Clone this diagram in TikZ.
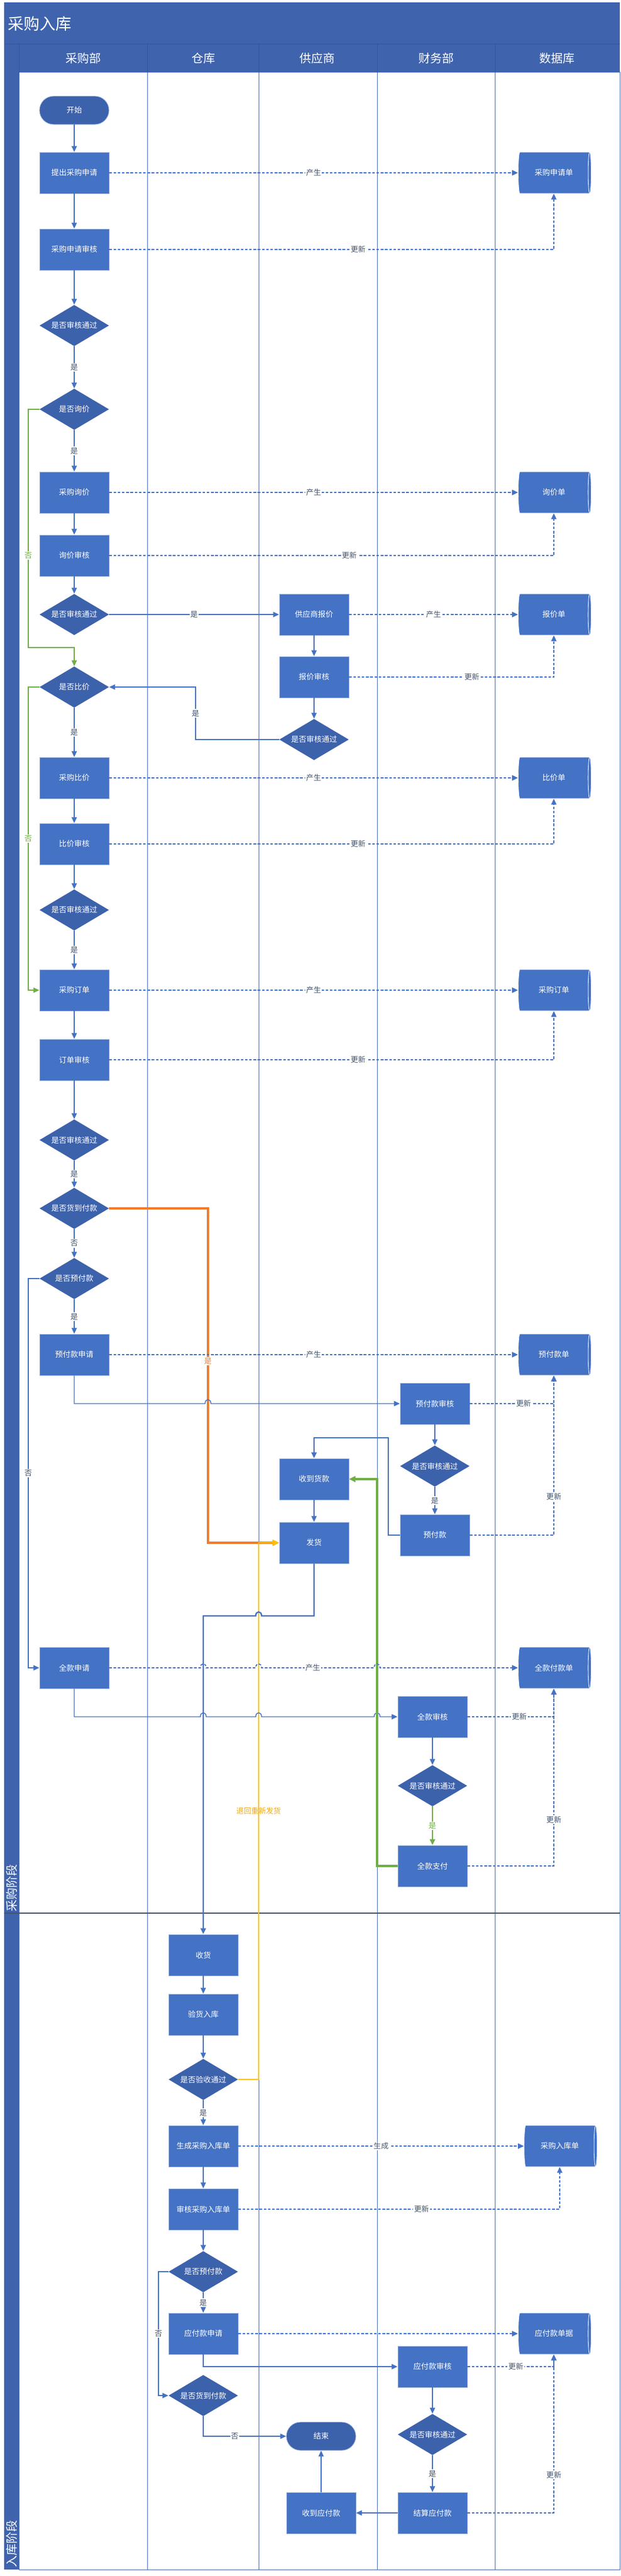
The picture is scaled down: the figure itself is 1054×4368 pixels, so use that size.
\documentclass[tikz,border=0pt]{standalone}
\usepackage{fontspec}
\setmainfont{Noto Sans CJK SC}
\usetikzlibrary{shapes.geometric,arrows.meta}
\definecolor{hdr}{HTML}{3F63AD}
\definecolor{hdrsep}{HTML}{34569A}
\definecolor{boxfill}{HTML}{4472C4}
\definecolor{decfill}{HTML}{3D62AC}
\definecolor{boxedge}{HTML}{A3BAE4}
\definecolor{linec}{HTML}{4472C4}
\definecolor{lanec}{HTML}{4A6FBA}
\definecolor{lblc}{HTML}{44546A}
\definecolor{grn}{HTML}{70AD47}
\definecolor{org}{HTML}{ED7D31}
\definecolor{ylw}{HTML}{FFC000}
\definecolor{ylwtext}{HTML}{EDA80C}
\definecolor{divc}{HTML}{44546A}
\begin{document}
\begin{tikzpicture}[x=0.5pt,y=-0.5pt,
  font=\fontsize{6.5pt}{8pt}\selectfont,
  box/.style={rectangle, fill=boxfill, draw=boxedge, line width=0.4pt, minimum width=59pt, minimum height=35pt, inner sep=0pt, text=white},
  dec/.style={diamond, fill=decfill, aspect=1.69, minimum width=59pt, minimum height=35pt, inner sep=0pt, text=white},
  term/.style={rectangle, rounded corners=12pt, fill=decfill, draw=boxedge, line width=0.4pt, minimum width=59pt, minimum height=24pt, inner sep=0pt, text=white},
  db/.style={cylinder, shape border rotate=0, aspect=0.45, cylinder uses custom fill, cylinder body fill=boxfill, cylinder end fill=boxfill, draw=white, line width=0.4pt, minimum height=62pt, minimum width=35pt, inner sep=0pt, text=white},
  tip/.style={-{Triangle[length=5pt,width=4.5pt]}},
  flow/.style={draw=linec, line width=0.7pt, tip},
  tflow/.style={draw=linec, line width=1.2pt, tip},
  dflow/.style={draw=linec, line width=0.85pt, dash pattern=on 2.2pt off 1.4pt, tip},
  gflow/.style={draw=grn, line width=0.6pt, -{Triangle[length=5pt,width=4.5pt]}},
  gflow2/.style={draw=grn, line width=1pt, -{Triangle[length=5pt,width=4.5pt]}},
  gthick/.style={draw=grn, line width=1.6pt, -{Triangle[length=5.5pt,width=5pt]}},
  oflow/.style={draw=org, line width=1.6pt, -{Triangle[length=5.5pt,width=5pt]}},
  yflow/.style={draw=ylw, line width=1pt, -{Triangle[length=5.5pt,width=5pt]}},
  lbl/.style={fill=white, inner sep=0.8pt, text=lblc, font=\fontsize{6.3pt}{7pt}\selectfont},
  glbl/.style={lbl, text=grn},
  olbl/.style={lbl, text=org},
  ylbl/.style={inner sep=0.8pt, text=ylwtext, font=\fontsize{6.3pt}{7pt}\selectfont},
  hdrtxt/.style={text=white, font=\fontsize{10pt}{12pt}\selectfont}
]
\useasboundingbox (0,0) rectangle (1054,4368);

% ---------- swimlane frame ----------
\fill[hdr] (7,4) rectangle (1052,75);
\fill[hdr] (7,75) rectangle (32,4357);
\fill[hdr] (32,75) rectangle (1052,123);
\draw[lanec, line width=0.5pt] (32,123) rectangle (1052,4357);
\foreach \xx in {250,439,640,840} {
  \draw[lanec, line width=0.5pt] (\xx,123) -- (\xx,4357);
  \draw[hdrsep, line width=0.5pt] (\xx,75) -- (\xx,123);
}
\draw[hdrsep, line width=0.5pt] (7,75) -- (1052,75);
\draw[hdrsep, line width=0.5pt] (32,75) -- (32,123);
\draw[divc, line width=0.7pt] (7,3244) -- (1052,3244);

\node[anchor=west, text=white, font=\fontsize{13.5pt}{16pt}\selectfont, inner sep=0pt] (title) at (13,40) {采购入库};
\node[hdrtxt] (h1) at (141,99) {采购部};
\node[hdrtxt] (h2) at (345,99) {仓库};
\node[hdrtxt] (h3) at (538,99) {供应商};
\node[hdrtxt] (h4) at (740,99) {财务部};
\node[hdrtxt] (h5) at (945,99) {数据库};
\node[hdrtxt, rotate=90] (p1) at (20,3201) {采购阶段};
\node[hdrtxt, rotate=90] (p2) at (20,4313) {入库阶段};

% ---------- nodes ----------
\node[term] (start) at (126,187) {开始};
\node[box] (r1) at (126,293) {提出采购申请};
\node[box] (r2) at (126,423) {采购申请审核};
\node[dec] (d1) at (126,552) {是否审核通过};
\node[dec] (d2) at (126,694) {是否询价};
\node[box] (r3) at (126,835) {采购询价};
\node[box] (r4) at (126,942) {询价审核};
\node[dec] (d3) at (126,1042) {是否审核通过};
\node[box] (s1) at (533,1042) {供应商报价};
\node[box] (s2) at (533,1148) {报价审核};
\node[dec] (sd) at (533,1254) {是否审核通过};
\node[dec] (d4) at (126,1165) {是否比价};
\node[box] (r5) at (126,1319) {采购比价};
\node[box] (r6) at (126,1431) {比价审核};
\node[dec] (d5) at (126,1543) {是否审核通过};
\node[box] (r7) at (126,1679) {采购订单};
\node[box] (r8) at (126,1797) {订单审核};
\node[dec] (d6) at (126,1933) {是否审核通过};
\node[dec] (d7) at (126,2049) {是否货到付款};
\node[dec] (d8) at (126,2168) {是否预付款};
\node[box] (r9) at (126,2297) {预付款申请};
\node[box] (f1) at (738,2380) {预付款审核};
\node[dec] (fd1) at (738,2486) {是否审核通过};
\node[box] (f2) at (738,2603) {预付款};
\node[box] (s3) at (533,2508) {收到货款};
\node[box] (s4) at (533,2616) {发货};
\node[box] (r10) at (126,2828) {全款申请};
\node[box] (f3) at (734,2911) {全款审核};
\node[dec] (fd2) at (734,3028) {是否审核通过};
\node[box] (f4) at (734,3164) {全款支付};
\node[box] (w1) at (345,3315) {收货};
\node[box] (w2) at (345,3416) {验货入库};
\node[dec] (wd1) at (345,3526) {是否验收通过};
\node[box] (w3) at (345,3639) {生成采购入库单};
\node[box] (w4) at (345,3746) {审核采购入库单};
\node[dec] (wd2) at (345,3852) {是否预付款};
\node[box] (w5) at (345,3957) {应付款申请};
\node[box] (f5) at (734,4013) {应付款审核};
\node[dec] (wd3) at (345,4062) {是否货到付款};
\node[term] (end) at (545,4131) {结束};
\node[dec] (fd3) at (734,4128) {是否审核通过};
\node[box] (f6) at (734,4261) {结算应付款};
\node[box] (s5) at (545,4261) {收到应付款};

\node[db] (db1) at (940,293) {采购申请单};
\node[db] (db2) at (940,835) {询价单};
\node[db] (db3) at (940,1042) {报价单};
\node[db] (db4) at (940,1319) {比价单};
\node[db] (db5) at (940,1679) {采购订单};
\node[db] (db6) at (940,2297) {预付款单};
\node[db] (db7) at (940,2828) {全款付款单};
\node[db] (db8) at (950,3639) {采购入库单};
\node[db] (db9) at (940,3957) {应付款单据};

% ---------- solid flow ----------
\draw[flow] (start) -- (r1);
\draw[flow] (r1) -- (r2);
\draw[flow] (r2) -- (d1);
\draw[flow] (d1) -- node[lbl]{是} (d2);
\draw[flow] (d2) -- node[lbl]{是} (r3);
\draw[flow] (r3) -- (r4);
\draw[flow] (r4) -- (d3);
\draw[flow] (d3) -- node[lbl]{是} (s1);
\draw[flow] (s1) -- (s2);
\draw[flow] (s2) -- (sd);
\draw[flow] (sd.west) -- (332,1254) -- node[lbl]{是} (332,1165) -- (d4.east);
\draw[gflow] (d2.west) -- (48,694) -- node[glbl,pos=0.613]{否} (48,1098) -| (d4.north);
\draw[flow] (d4) -- node[lbl]{是} (r5);
\draw[gflow] (d4.west) -- (48,1165) -- node[glbl]{否} (48,1679) -- (r7.west);
\draw[flow] (r5) -- (r6);
\draw[flow] (r6) -- (d5);
\draw[flow] (d5) -- node[lbl]{是} (r7);
\draw[flow] (r7) -- (r8);
\draw[flow] (r8) -- (d6);
\draw[flow] (d6) -- node[lbl]{是} (d7);
\draw[flow] (d7) -- node[lbl]{否} (d8);
\draw[flow] (d8) -- node[lbl]{是} (r9);
\draw[oflow] (d7.east) -- (353,2049) -- node[olbl,pos=0.457]{是} (353,2616) -- (s4.west);
\draw[flow] (d8.west) -- (48,2168) -- node[lbl]{否} (48,2828) -- (r10.west);
\draw[flow] (r9.south) -- (126,2380) -- (348,2380) .. controls (348,2371) and (358,2371) .. (358,2380) -- (f1.west);
\draw[flow] (f1) -- (fd1);
\draw[flow] (fd1) -- node[lbl]{是} (f2);
\draw[tflow] (f2.west) -- (659,2603) -- (659,2438) -| (s3.north);
\draw[flow] (s3) -- (s4);
\draw[yflow] (wd1.east) -- (439,3526) -- node[ylbl]{退回重新发货} (439,2616) -- (s4.west);
\draw[tflow] (s4.south) -- (533,2740) -- (444,2740) .. controls (444,2731) and (434,2731) .. (434,2740) -| (w1.north);
\draw[flow] (r10.south) -- (126,2911)
  -- (340,2911) .. controls (340,2902) and (350,2902) .. (350,2911)
  -- (434,2911) .. controls (434,2902) and (444,2902) .. (444,2911)
  -- (635,2911) .. controls (635,2902) and (645,2902) .. (645,2911)
  -- (f3.west);
\draw[flow] (f3) -- (fd2);
\draw[gflow2] (fd2) -- node[glbl]{是} (f4);
\draw[gthick] (f4.west) -- (640,3164) -- (640,2508) -- (s3.east);
\draw[flow] (w1) -- (w2);
\draw[flow] (w2) -- (wd1);
\draw[flow] (wd1) -- node[lbl]{是} (w3);
\draw[flow] (w3) -- (w4);
\draw[flow] (w4) -- (wd2);
\draw[flow] (wd2) -- node[lbl]{是} (w5);
\draw[flow] (wd2.west) -- (269,3852) -- node[lbl]{否} (269,4062) -- (wd3.west);
\draw[flow] (w5.south) |- (f5.west);
\draw[flow] (f5) -- (fd3);
\draw[flow] (fd3) -- node[lbl]{是} (f6);
\draw[flow] (wd3.south) |- node[lbl,pos=0.69]{否} (end.west);
\draw[flow] (f6) -- (s5);
\draw[flow] (s5) -- (end);

% ---------- data flow (dashed) ----------
\draw[dflow] (r1) -- node[lbl]{产生} (db1);
\draw[dflow] (r2.east) -| node[lbl,pos=0.28]{更新} (db1.south);
\draw[dflow] (r3) -- node[lbl]{产生} (db2);
\draw[dflow] (r4.east) -| node[lbl,pos=0.27]{更新} (db2.south);
\draw[dflow] (s1) -- node[lbl]{产生} (db3);
\draw[dflow] (s2.east) -| node[lbl,pos=0.3]{更新} (db3.south);
\draw[dflow] (r5) -- node[lbl]{产生} (db4);
\draw[dflow] (r6.east) -| node[lbl,pos=0.28]{更新} (db4.south);
\draw[dflow] (r7) -- node[lbl]{产生} (db5);
\draw[dflow] (r8.east) -| node[lbl,pos=0.28]{更新} (db5.south);
\draw[dflow] (r9) -- node[lbl]{产生} (db6);
\draw[dflow] (f1.east) -| node[lbl,pos=0.32]{更新} (db6.south);
\draw[dflow] (f2.east) -| node[lbl,pos=0.62]{更新} (db6.south);
\draw[dflow] (r10.east)
  -- (340,2828) .. controls (340,2819) and (350,2819) .. (350,2828)
  -- (434,2828) .. controls (434,2819) and (444,2819) .. (444,2828)
  -- node[lbl,pos=0.455]{产生} (635,2828) .. controls (635,2819) and (645,2819) .. (645,2828)
  -- (db7.west);
\draw[dflow] (f3.east) -| node[lbl,pos=0.3]{更新} (db7.south);
\draw[dflow] (f4.east) -| node[lbl,pos=0.63]{更新} (db7.south);
\draw[dflow] (w3) -- node[lbl]{生成} (db8);
\draw[dflow] (w4.east) -| node[lbl,pos=0.285]{更新} (db8.south);
\draw[dflow] (w5) -- (db9);
\draw[dflow] (f5.east) -| node[lbl,pos=0.28]{更新} (db9.south);
\draw[dflow] (f6.east) -| node[lbl,pos=0.62]{更新} (db9.south);
\end{tikzpicture}
\end{document}
